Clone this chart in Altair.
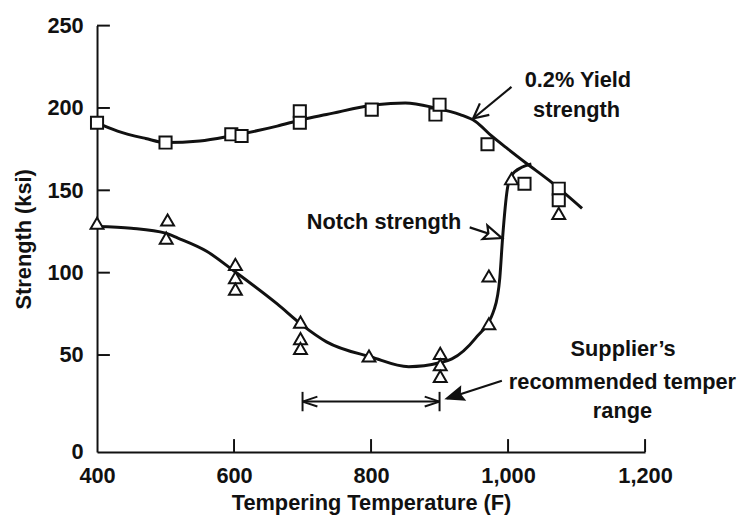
import altair as alt
import pandas as pd

FONT = "Liberation Sans"

# ---- data ----
# 0.2% yield strength (squares)
yield_x = [400, 500, 596, 611, 696, 696, 801, 894, 900, 970, 1024, 1074, 1074]
yield_y = [191, 179, 184, 183, 198, 191, 199, 196, 202, 178, 154, 151, 144]
# notch strength (triangles)
notch_x = [400, 501, 503, 602, 602, 602, 697, 697, 697, 797, 901, 901, 901, 972, 972, 1005, 1074]
notch_y = [130, 121, 132, 105, 97, 90, 70, 60, 54, 49.5, 51, 45, 39, 98, 69, 157, 136]

# hand-drawn fitted curves
ycurve_x = [400, 430, 471, 500, 550, 595, 663, 700, 735, 807, 850, 894, 930, 952, 976, 1000, 1028, 1060, 1108]
ycurve_y = [191, 186, 181.5, 179, 180, 183, 189, 193, 196, 202, 203, 200, 196, 192, 183, 175, 166, 156, 139]
ncurve_x = [400, 450, 500, 518, 560, 600, 663, 700, 735, 800, 855, 900, 918, 952, 980, 988, 992, 999, 1005, 1020, 1034]
ncurve_y = [128, 127, 124, 121, 113, 101, 81, 68, 58, 49, 44, 46, 48, 60, 78, 97, 121, 151, 159, 164, 166]

x_ticks = [400, 600, 800, 1000, 1200]
y_ticks = [0, 50, 100, 150, 200, 250]

# annotations
ann_text = ["0.2% Yield", "strength", "Notch strength", "Supplier\u2019s", "recommended temper", "range"]
ann_x = [1102, 1100, 819, 1168, 1167, 1167]
ann_y = [217, 199, 130.5, 53.6, 36.2, 20.9]

# recommended temper range
range_lo, range_hi, range_level = 700, 900, 26

W, H = 554, 431

yield_df = pd.DataFrame({"x": yield_x, "y": yield_y})
notch_df = pd.DataFrame({"x": notch_x, "y": notch_y})
ycurve_df = pd.DataFrame({"x": ycurve_x, "y": ycurve_y})
ncurve_df = pd.DataFrame({"x": ncurve_x, "y": ncurve_y})
ann_df = pd.DataFrame({"t": ann_text, "x": ann_x, "y": ann_y})

xscale = alt.Scale(domain=[400, 1200], nice=False, zero=False)
yscale = alt.Scale(domain=[0, 50, 250], range=[H, H - 98, 0], nice=False, zero=False)

xaxis = alt.Axis(values=x_ticks, format=",d", title="Tempering Temperature (F)",
                 ticks=False, tickSize=0, grid=False, labelFlush=False, labelOverlap=False,
                 labelPadding=14, titlePadding=6)
yaxis = alt.Axis(values=y_ticks, title="Strength (ksi)", ticks=False, tickSize=0,
                 grid=False, labelOverlap=False, labelPadding=14, titlePadding=12)

X = lambda f="x": alt.X(f"{f}:Q", scale=xscale, axis=xaxis)
Y = lambda f="y": alt.Y(f"{f}:Q", scale=yscale, axis=yaxis)

ink = "#111111"

ycurve = alt.Chart(ycurve_df).mark_line(color=ink, strokeWidth=3, interpolate="monotone").encode(x=X(), y=Y())
ncurve = alt.Chart(ncurve_df).mark_line(color=ink, strokeWidth=3, interpolate="monotone").encode(x=X(), y=Y())

ypts = alt.Chart(yield_df).mark_point(shape="square", size=150, filled=True, fill="white",
                                      stroke=ink, strokeWidth=2, opacity=1).encode(x=X(), y=Y())
npts = alt.Chart(notch_df).mark_point(shape="triangle-up", size=170, filled=True, fill="white",
                                      stroke=ink, strokeWidth=2, opacity=1).encode(x=X(), y=Y())

# inward tick marks
ytick_df = pd.DataFrame({"y": y_ticks[1:]})
xtick_df = pd.DataFrame({"x": x_ticks[1:]})
yticks = alt.Chart(ytick_df).mark_rule(color=ink, strokeWidth=2).encode(
    y=Y(), x=alt.value(0), x2=alt.value(13))
xticks = alt.Chart(xtick_df).mark_rule(color=ink, strokeWidth=2).encode(
    x=X(), y=alt.value(H), y2=alt.value(H - 13))

# arrows
arrow_df = pd.DataFrame({
    "name": ["yield", "notch", "supplier"],
    "x": [1005, 944, 991], "y": [212.8, 127.5, 36.7],
    "x2": [949, 991, 911], "y2": [193.6, 121, 27.6],
    "angle": [140.6, 19, 162],
})
arrow_lines = alt.Chart(arrow_df).mark_rule(color=ink, strokeWidth=2.2).encode(
    x=X(), y=Y(), x2="x2:Q", y2="y2:Q")

def head(name, shape, size, filled, fill):
    return alt.Chart(arrow_df[arrow_df.name == name]).mark_point(
        shape=shape, size=size, filled=filled, fill=fill, stroke=ink, strokeWidth=2.2, opacity=1
    ).encode(x=alt.X("x2:Q", scale=xscale, axis=xaxis), y=alt.Y("y2:Q", scale=yscale, axis=yaxis),
             angle=alt.Angle("angle:Q", scale=None))

open_v = "M0,0L-1,-0.5M0,0L-1,0.5"
yhead = head("yield", open_v, 900, False, "white")
nhead = head("notch", "M0,0L-1,-0.4L-0.8,0L-1,0.4Z", 1300, True, "white")
shead = head("supplier", "M0,0L-1,-0.4L-0.85,0L-1,0.4Z", 1000, True, ink)

range_df = pd.DataFrame({"x": [range_lo], "x2": [range_hi], "y": [range_level]})
range_line = alt.Chart(range_df).mark_rule(color=ink, strokeWidth=2).encode(
    x=X(), x2="x2:Q", y=Y())
rend_df = pd.DataFrame({"x": [range_lo, range_hi], "y": [range_level - 5, range_level - 5],
                        "y2": [range_level + 5, range_level + 5], "angle": [180, 0]})
range_ends = alt.Chart(rend_df).mark_rule(color=ink, strokeWidth=2).encode(
    x=X(), y=Y(), y2="y2:Q")
range_heads = alt.Chart(rend_df).mark_point(
    shape="M0,0L-1,-0.33M0,0L-1,0.33", size=900, filled=False, stroke=ink, strokeWidth=2, opacity=1
).encode(x=X(), y=alt.Y("y3:Q", scale=yscale, axis=yaxis), angle=alt.Angle("angle:Q", scale=None)
).transform_calculate(y3=f"{range_level}")

ann = alt.Chart(ann_df).mark_text(font=FONT, fontWeight="bold", fontSize=22, color=ink,
                                  align="center", baseline="middle").encode(
    x=X(), y=Y(), text="t:N")

chart = alt.layer(
    yticks, xticks, ycurve, ncurve, arrow_lines, yhead, nhead, shead,
    range_line, range_ends, range_heads, ypts, npts, ann
).properties(
    width=W, height=H,
    autosize=alt.AutoSizeParams(type="none"),
    padding={"left": 90, "top": 15, "right": 99, "bottom": 70},
).configure_view(stroke=None).configure_axis(
    domain=True, domainColor=ink, domainWidth=2,
    labelFont=FONT, labelFontWeight="bold", labelFontSize=22, labelColor=ink,
    titleFont=FONT, titleFontWeight="bold", titleFontSize=22, titleColor=ink,
)

chart.save("out.html", embed_options={"renderer": "svg", "actions": False})
